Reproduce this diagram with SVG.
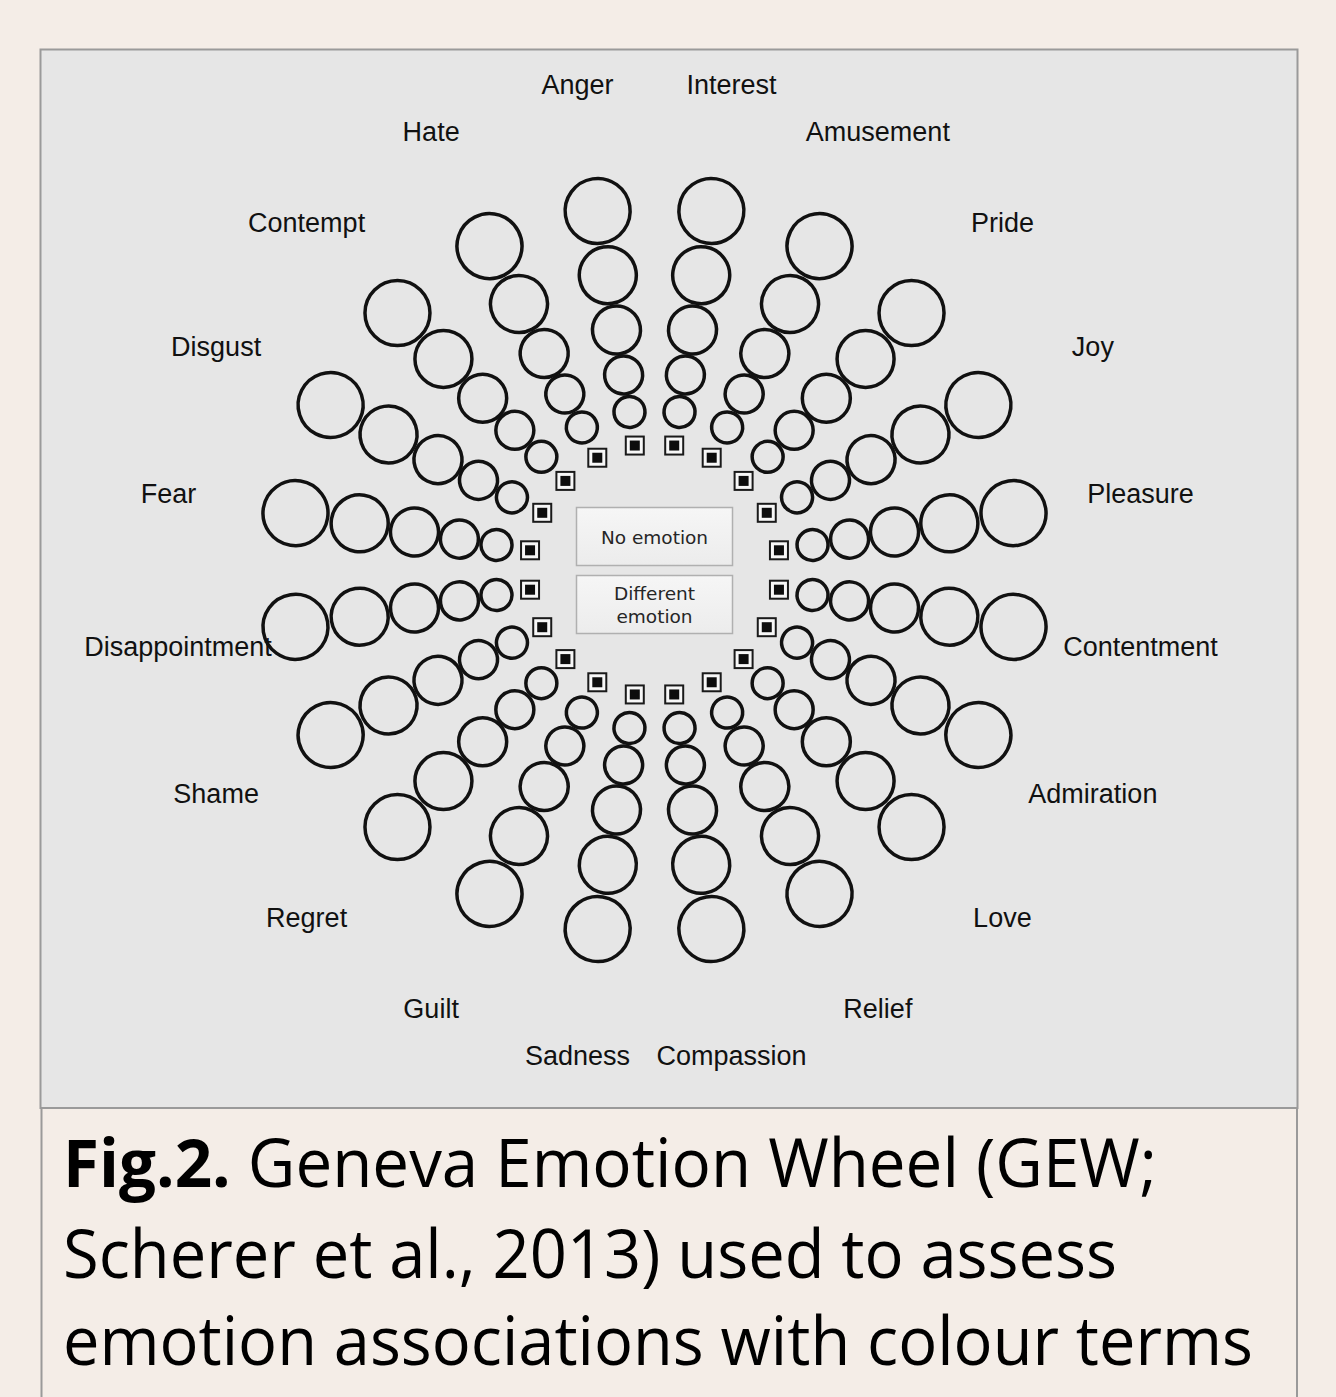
<svg xmlns="http://www.w3.org/2000/svg" xmlns:xlink="http://www.w3.org/1999/xlink" width="1336" height="1397" viewBox="0 0 1336 1397">
  <style>
    .ring { fill: none; stroke: #111111; stroke-width: 3.5; }
    .lbl { font-family: "Liberation Sans", Arial, Helvetica, sans-serif; font-size: 27px; fill: #111111; text-anchor: middle; }
    .btn { fill: url(#btnGrad); stroke: #b0b0b0; stroke-width: 1.5; }
    .btnTxt { font-family: "DejaVu Sans", "Lucida Grande", sans-serif; font-size: 18.5px; fill: #262626; text-anchor: middle; }
    .cap { font-family: "Open Sans", "Noto Sans", sans-serif; font-size: 67px; fill: #000000; }
  </style>
  <defs>
    <linearGradient id="btnGrad" x1="0" y1="0" x2="0" y2="1">
      <stop offset="0" stop-color="#f6f6f6"/>
      <stop offset="1" stop-color="#ececec"/>
    </linearGradient>
    <g id="spoke">
      <circle class="ring" cx="0" cy="-160" r="15.5"/>
      <circle class="ring" cx="0" cy="-197.5" r="19"/>
      <circle class="ring" cx="0" cy="-243" r="24"/>
      <circle class="ring" cx="0" cy="-298.5" r="28.5"/>
      <circle class="ring" cx="0" cy="-363.5" r="32.5"/>
    </g>
    <g id="sq">
      <rect x="-9" y="-9" width="18" height="18" fill="#f7f7f7" stroke="#1a1a1a" stroke-width="2"/>
      <rect x="-5" y="-5" width="10" height="10" fill="#0d0d0d"/>
    </g>
  </defs>

  <rect x="0" y="0" width="1336" height="1397" fill="#f4ede7"/>
  <rect x="40.5" y="49.5" width="1257" height="1058.5" fill="#e6e6e6" stroke="#9a9a9a" stroke-width="2"/>
  <g id="caption-frame" stroke="#9a9a9a" stroke-width="2" fill="none">
    <line x1="41.5" y1="1108" x2="41.5" y2="1397"/>
    <line x1="1297" y1="1108" x2="1297" y2="1397"/>
  </g>

  <g id="connectors"/>

  <g id="interest"><use href="#spoke" transform="translate(654.5 570) rotate(9)"/><use href="#sq" transform="translate(654.5 570) rotate(9) translate(0 -126) rotate(-9)"/><text class="lbl" transform="translate(654.5 570) rotate(9) translate(0 -492) rotate(-9)" y="9.5">Interest</text></g>
  <g id="amusement"><use href="#spoke" transform="translate(654.5 570) rotate(27)"/><use href="#sq" transform="translate(654.5 570) rotate(27) translate(0 -126) rotate(-27)"/><text class="lbl" transform="translate(654.5 570) rotate(27) translate(0 -492) rotate(-27)" y="9.5">Amusement</text></g>
  <g id="pride"><use href="#spoke" transform="translate(654.5 570) rotate(45)"/><use href="#sq" transform="translate(654.5 570) rotate(45) translate(0 -126) rotate(-45)"/><text class="lbl" transform="translate(654.5 570) rotate(45) translate(0 -492) rotate(-45)" y="9.5">Pride</text></g>
  <g id="joy"><use href="#spoke" transform="translate(654.5 570) rotate(63)"/><use href="#sq" transform="translate(654.5 570) rotate(63) translate(0 -126) rotate(-63)"/><text class="lbl" transform="translate(654.5 570) rotate(63) translate(0 -492) rotate(-63)" y="9.5">Joy</text></g>
  <g id="pleasure"><use href="#spoke" transform="translate(654.5 570) rotate(81)"/><use href="#sq" transform="translate(654.5 570) rotate(81) translate(0 -126) rotate(-81)"/><text class="lbl" transform="translate(654.5 570) rotate(81) translate(0 -492) rotate(-81)" y="9.5">Pleasure</text></g>
  <g id="contentment"><use href="#spoke" transform="translate(654.5 570) rotate(99)"/><use href="#sq" transform="translate(654.5 570) rotate(99) translate(0 -126) rotate(-99)"/><text class="lbl" transform="translate(654.5 570) rotate(99) translate(0 -492) rotate(-99)" y="9.5">Contentment</text></g>
  <g id="admiration"><use href="#spoke" transform="translate(654.5 570) rotate(117)"/><use href="#sq" transform="translate(654.5 570) rotate(117) translate(0 -126) rotate(-117)"/><text class="lbl" transform="translate(654.5 570) rotate(117) translate(0 -492) rotate(-117)" y="9.5">Admiration</text></g>
  <g id="love"><use href="#spoke" transform="translate(654.5 570) rotate(135)"/><use href="#sq" transform="translate(654.5 570) rotate(135) translate(0 -126) rotate(-135)"/><text class="lbl" transform="translate(654.5 570) rotate(135) translate(0 -492) rotate(-135)" y="9.5">Love</text></g>
  <g id="relief"><use href="#spoke" transform="translate(654.5 570) rotate(153)"/><use href="#sq" transform="translate(654.5 570) rotate(153) translate(0 -126) rotate(-153)"/><text class="lbl" transform="translate(654.5 570) rotate(153) translate(0 -492) rotate(-153)" y="9.5">Relief</text></g>
  <g id="compassion"><use href="#spoke" transform="translate(654.5 570) rotate(171)"/><use href="#sq" transform="translate(654.5 570) rotate(171) translate(0 -126) rotate(-171)"/><text class="lbl" transform="translate(654.5 570) rotate(171) translate(0 -492) rotate(-171)" y="9.5">Compassion</text></g>

  <g id="anger"><use href="#spoke" transform="translate(654.5 570) rotate(-9)"/><use href="#sq" transform="translate(654.5 570) rotate(-9) translate(0 -126) rotate(9)"/><text class="lbl" transform="translate(654.5 570) rotate(-9) translate(0 -492) rotate(9)" y="9.5">Anger</text></g>
  <g id="hate"><use href="#spoke" transform="translate(654.5 570) rotate(-27)"/><use href="#sq" transform="translate(654.5 570) rotate(-27) translate(0 -126) rotate(27)"/><text class="lbl" transform="translate(654.5 570) rotate(-27) translate(0 -492) rotate(27)" y="9.5">Hate</text></g>
  <g id="contempt"><use href="#spoke" transform="translate(654.5 570) rotate(-45)"/><use href="#sq" transform="translate(654.5 570) rotate(-45) translate(0 -126) rotate(45)"/><text class="lbl" transform="translate(654.5 570) rotate(-45) translate(0 -492) rotate(45)" y="9.5">Contempt</text></g>
  <g id="disgust"><use href="#spoke" transform="translate(654.5 570) rotate(-63)"/><use href="#sq" transform="translate(654.5 570) rotate(-63) translate(0 -126) rotate(63)"/><text class="lbl" transform="translate(654.5 570) rotate(-63) translate(0 -492) rotate(63)" y="9.5">Disgust</text></g>
  <g id="fear"><use href="#spoke" transform="translate(654.5 570) rotate(-81)"/><use href="#sq" transform="translate(654.5 570) rotate(-81) translate(0 -126) rotate(81)"/><text class="lbl" transform="translate(654.5 570) rotate(-81) translate(0 -492) rotate(81)" y="9.5">Fear</text></g>
  <g id="disappointment"><text class="lbl" transform="translate(654.5 570) rotate(-99) translate(0 -492) rotate(99) translate(9.5 0)" y="9.5">Disappointment</text><use href="#spoke" transform="translate(654.5 570) rotate(-99)"/><use href="#sq" transform="translate(654.5 570) rotate(-99) translate(0 -126) rotate(99)"/></g>
  <g id="shame"><use href="#spoke" transform="translate(654.5 570) rotate(-117)"/><use href="#sq" transform="translate(654.5 570) rotate(-117) translate(0 -126) rotate(117)"/><text class="lbl" transform="translate(654.5 570) rotate(-117) translate(0 -492) rotate(117)" y="9.5">Shame</text></g>
  <g id="regret"><use href="#spoke" transform="translate(654.5 570) rotate(-135)"/><use href="#sq" transform="translate(654.5 570) rotate(-135) translate(0 -126) rotate(135)"/><text class="lbl" transform="translate(654.5 570) rotate(-135) translate(0 -492) rotate(135)" y="9.5">Regret</text></g>
  <g id="guilt"><use href="#spoke" transform="translate(654.5 570) rotate(-153)"/><use href="#sq" transform="translate(654.5 570) rotate(-153) translate(0 -126) rotate(153)"/><text class="lbl" transform="translate(654.5 570) rotate(-153) translate(0 -492) rotate(153)" y="9.5">Guilt</text></g>
  <g id="sadness"><use href="#spoke" transform="translate(654.5 570) rotate(-171)"/><use href="#sq" transform="translate(654.5 570) rotate(-171) translate(0 -126) rotate(171)"/><text class="lbl" transform="translate(654.5 570) rotate(-171) translate(0 -492) rotate(171)" y="9.5">Sadness</text></g>

  <g id="no-emotion">
    <rect class="btn" x="576.5" y="507.5" width="156" height="58"/>
    <text class="btnTxt" x="654.5" y="544">No emotion</text>
  </g>
  <g id="different-emotion">
    <rect class="btn" x="576.5" y="575.5" width="156" height="58"/>
    <text class="btnTxt" x="654.5" y="600">Different</text>
    <text class="btnTxt" x="654.5" y="622.5">emotion</text>
  </g>

  <g id="caption">
    <text class="cap" x="63" y="1187" textLength="1094" lengthAdjust="spacingAndGlyphs"><tspan font-weight="bold">Fig.2.</tspan> Geneva Emotion Wheel (GEW;</text>
    <text class="cap" x="63" y="1278" textLength="1054" lengthAdjust="spacingAndGlyphs">Scherer et al., 2013) used to assess</text>
    <text class="cap" x="63" y="1365" textLength="1190" lengthAdjust="spacingAndGlyphs">emotion associations with colour terms</text>
  </g>
</svg>
